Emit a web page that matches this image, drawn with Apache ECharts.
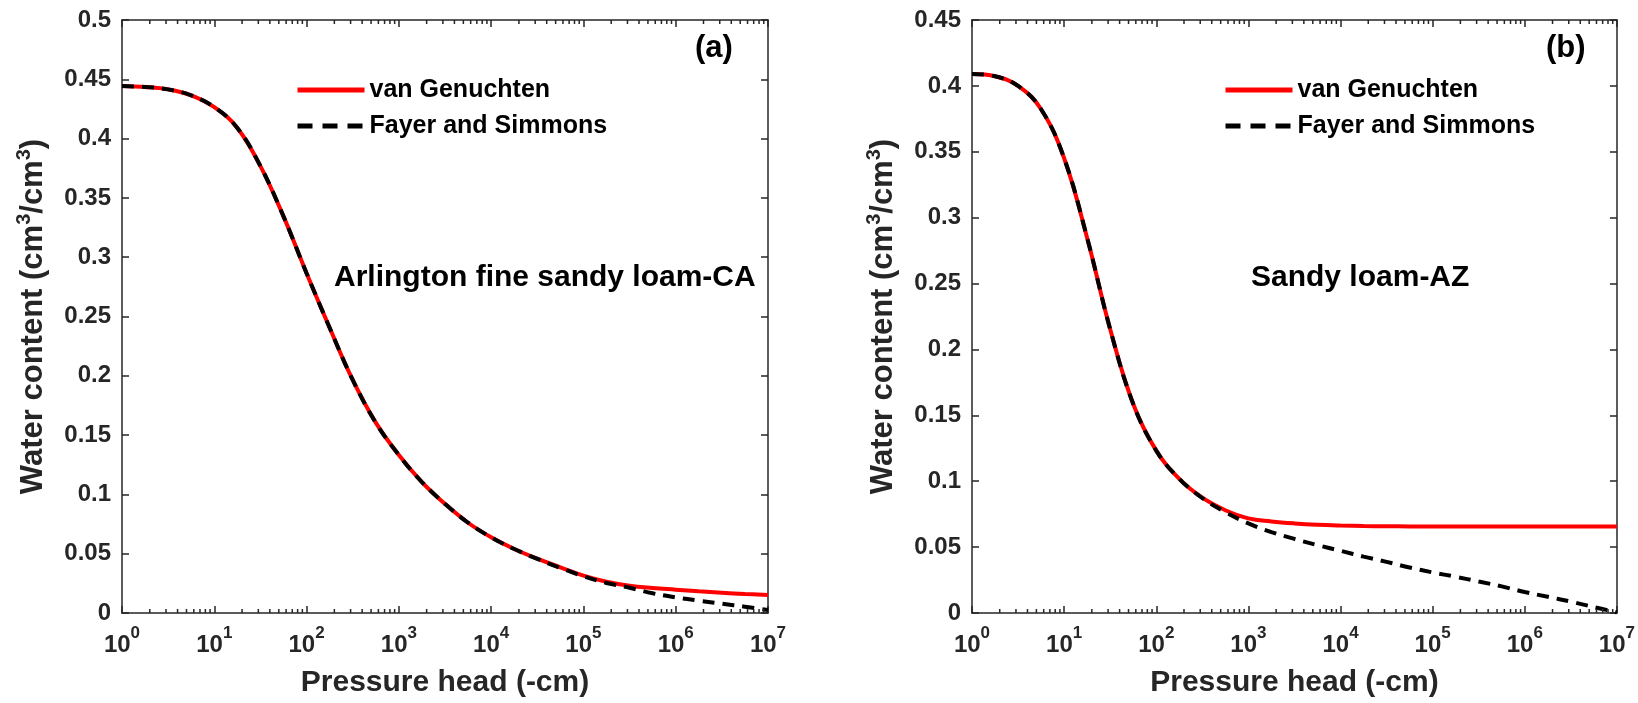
<!DOCTYPE html>
<html><head><meta charset="utf-8">
<script src="https://cdn.jsdelivr.net/npm/echarts@6/dist/echarts.min.js"></script>
<style>html,body{margin:0;padding:0;background:#fff}#c{width:1638px;height:703px}</style>
</head><body><div id="c"></div>
<script>
// Pressure head (-cm), quarter-decade sample points
const pressureHead = [1, 1.778, 3.162, 5.623, 10, 17.78, 31.62, 56.23, 100, 177.8, 316.2, 562.3,
  1000, 1778, 3162, 5623, 10000, 17783, 31623, 56234, 100000, 177828, 316228, 562341,
  1000000, 1778279, 3162278, 5623413, 10000000];
// (a) Arlington fine sandy loam-CA
const vgA = [0.4443, 0.4435, 0.4415, 0.4365, 0.4265, 0.4090, 0.3768, 0.3344, 0.2865, 0.2405, 0.1965, 0.1605,
  0.1332, 0.1104, 0.0920, 0.0761, 0.0638, 0.0540, 0.0458, 0.0385, 0.0315, 0.0264, 0.0230, 0.0211,
  0.0197, 0.0183, 0.0171, 0.0160, 0.0152];
const fsA = [0.4443, 0.4435, 0.4415, 0.4365, 0.4265, 0.4090, 0.3768, 0.3344, 0.2865, 0.2405, 0.1965, 0.1605,
  0.1332, 0.1104, 0.0920, 0.0761, 0.0638, 0.0540, 0.0456, 0.0380, 0.0310, 0.0253, 0.0213, 0.0166,
  0.0132, 0.0104, 0.0079, 0.0053, 0.0025];
// (b) Sandy loam-AZ
const vgB = [0.4090, 0.4073, 0.4000, 0.3823, 0.3451, 0.2846, 0.2153, 0.1586, 0.1232, 0.1018, 0.0875, 0.0780,
  0.0718, 0.0695, 0.0680, 0.0670, 0.0664, 0.0660, 0.0658, 0.0657, 0.0656, 0.0656, 0.0656, 0.0656,
  0.0656, 0.0656, 0.0656, 0.0656, 0.0656];
const fsB = [0.4090, 0.4073, 0.4000, 0.3823, 0.3451, 0.2846, 0.2153, 0.1586, 0.1232, 0.1018, 0.0872, 0.0765,
  0.0680, 0.0614, 0.0562, 0.0515, 0.0472, 0.0428, 0.0388, 0.0345, 0.0308, 0.0275, 0.0239, 0.0202,
  0.0159, 0.0123, 0.0086, 0.0045, 0.0005];
const seriesNames = ['van Genuchten', 'Fayer and Simmons'];
const panelLabels = ['(a)', '(b)'];
const soilNames = ['Arlington fine sandy loam-CA', 'Sandy loam-AZ'];
const xTitle = 'Pressure head (-cm)';
const yTitle = 'Water content (cm{s|3}/cm{s|3})';
const yMaxes = [0.5, 0.45];
const minorMultipliers = [2, 3, 4, 5, 6, 7, 8, 9];
const decades = [1, 10, 100, 1000, 10000, 100000, 1000000];

const FONT = '"Liberation Sans", Arial, Helvetica, sans-serif';
const AX = '#262626';
const minorTicks = [];
decades.forEach(d => minorMultipliers.forEach(m => minorTicks.push([d * m, 0])));
const zip = (xs, ys) => xs.map((x, i) => [x, ys[i]]);

const grids = [
  {left: 122, top: 20, width: 646, height: 593},
  {left: 972, top: 20, width: 646, height: 593}
];

function xAxisDef(g, pos) {
  const bottom = pos === 'bottom';
  return {
    type: 'log', logBase: 10, gridIndex: g, position: pos, min: 1, max: 1e7, splitNumber: 7,
    axisLine: {show: true, onZero: false, lineStyle: {color: AX, width: 1.5}},
    axisTick: {show: true, inside: true, length: 7, lineStyle: {color: AX, width: 1.5}},
    splitLine: {show: false}, minorTick: {show: false},
    axisLabel: bottom ? {
      show: true, margin: 12, color: AX, fontFamily: FONT, fontWeight: 'bold', fontSize: 24,
      showMinLabel: true, showMaxLabel: true,
      formatter: v => '{b|10}{s|' + Math.round(Math.log10(v)) + '}',
      rich: {
        b: {fontSize: 24, fontWeight: 'bold', fontFamily: FONT, color: AX, padding: [8, 0, 0, 0], verticalAlign: 'bottom'},
        s: {fontSize: 17, fontWeight: 'bold', fontFamily: FONT, color: AX, verticalAlign: 'top'}
      }
    } : {show: false},
    name: bottom ? xTitle : '', nameLocation: 'middle', nameGap: 55,
    nameTextStyle: {fontFamily: FONT, fontWeight: 'bold', fontSize: 30, color: AX}
  };
}
function yAxisDef(g, pos) {
  const left = pos === 'left';
  return {
    type: 'value', gridIndex: g, position: pos, min: 0, max: yMaxes[g], interval: 0.05,
    axisLine: {show: true, onZero: false, lineStyle: {color: AX, width: 1.5}},
    axisTick: {show: true, inside: true, length: 7, lineStyle: {color: AX, width: 1.5}},
    splitLine: {show: false},
    axisLabel: left ? {show: true, margin: 11, color: AX, fontFamily: FONT, fontWeight: 'bold', fontSize: 24} : {show: false},
    name: left ? yTitle : '', nameLocation: 'middle', nameGap: 70, nameRotate: 90,
    nameTextStyle: {fontFamily: FONT, fontWeight: 'bold', fontSize: 31, color: AX, lineHeight: 38,
      rich: {s: {fontSize: 20, fontWeight: 'bold', fontFamily: FONT, color: AX, verticalAlign: 'top'}}}
  };
}

const data = [[vgA, fsA], [vgB, fsB]];
const series = [];
[0, 1].forEach(g => {
  series.push({
    name: seriesNames[0], type: 'line', xAxisIndex: 2 * g, yAxisIndex: 2 * g,
    data: zip(pressureHead, data[g][0]), symbol: 'none', smooth: 0.4, z: 3,
    lineStyle: {color: '#ff0000', width: 4}, itemStyle: {color: '#ff0000'}
  });
  series.push({
    name: seriesNames[1], type: 'line', xAxisIndex: 2 * g, yAxisIndex: 2 * g,
    data: zip(pressureHead, data[g][1]), symbol: 'none', smooth: 0.4, z: 4,
    lineStyle: {color: '#000000', width: 4, type: [12, 8]}, itemStyle: {color: '#000000'}
  });
  series.push({
    type: 'custom', xAxisIndex: 2 * g, yAxisIndex: 2 * g, data: minorTicks, silent: true, z: 5,
    renderItem: (params, api) => {
      const cs = params.coordSys;
      const x = api.coord([api.value(0), 0])[0];
      const yb = cs.y + cs.height, yt = cs.y;
      const st = {stroke: AX, lineWidth: 1.5};
      return {type: 'group', children: [
        {type: 'line', shape: {x1: x, y1: yb, x2: x, y2: yb - 4}, style: st},
        {type: 'line', shape: {x1: x, y1: yt, x2: x, y2: yt + 4}, style: st}
      ]};
    }
  });
});

const legendBase = {
  orient: 'vertical', itemWidth: 67, itemHeight: 14, itemGap: 10, padding: 0,
  data: [
    {name: seriesNames[0], itemStyle: {opacity: 0}, lineStyle: {color: '#ff0000', width: 5, type: 'solid'}},
    {name: seriesNames[1], itemStyle: {opacity: 0}, lineStyle: {color: '#000000', width: 5, type: [15, 10]}}
  ],
  itemStyle: {opacity: 0},
  textStyle: {fontFamily: FONT, fontWeight: 'bold', fontSize: 25, color: '#000', lineHeight: 26}
};
const txt = (left, top, text, size) => ({type: 'text', left, top,
  style: {text, font: 'bold ' + size + 'px ' + FONT, fill: '#000'}});

const chart = echarts.init(document.getElementById('c'), null, {renderer: 'canvas'});
chart.setOption({
  animation: false,
  backgroundColor: '#fff',
  grid: grids,
  xAxis: [xAxisDef(0, 'bottom'), xAxisDef(0, 'top'), xAxisDef(1, 'bottom'), xAxisDef(1, 'top')],
  yAxis: [yAxisDef(0, 'left'), yAxisDef(0, 'right'), yAxisDef(1, 'left'), yAxisDef(1, 'right')],
  legend: [Object.assign({left: 295, top: 77}, legendBase), Object.assign({left: 1223, top: 77}, legendBase)],
  series,
  graphic: [
    txt(695, 33, panelLabels[0], 31),
    txt(1546, 33, panelLabels[1], 31),
    txt(334, 263, soilNames[0], 30),
    txt(1251, 263, soilNames[1], 30)
  ]
});
</script></body></html>
